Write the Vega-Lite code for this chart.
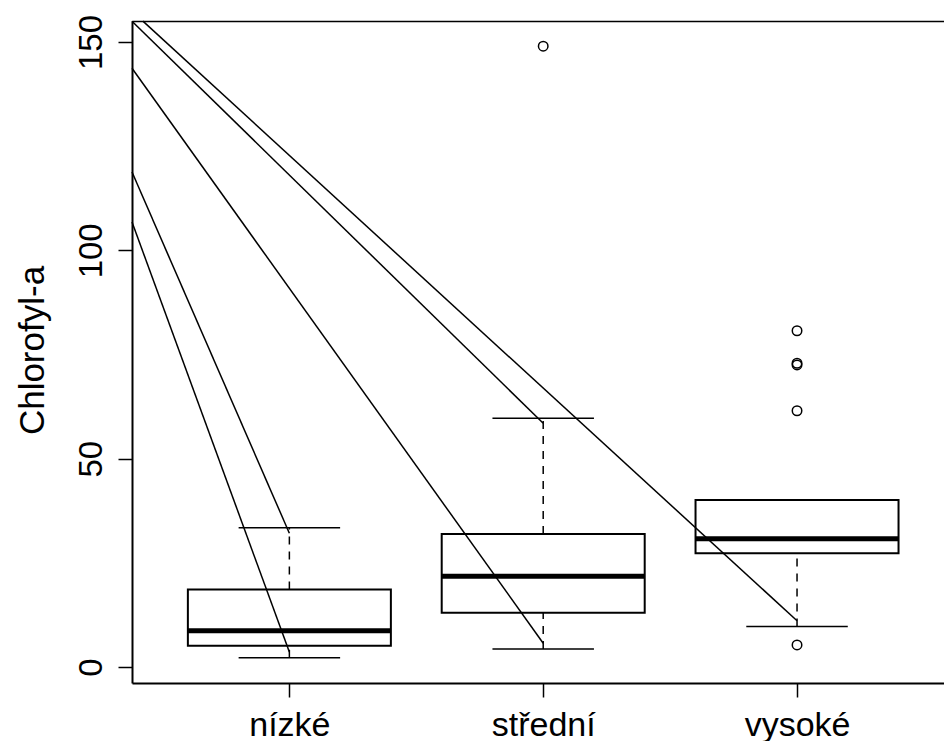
{
  "$schema": "https://vega.github.io/schema/vega-lite/v6.json",
  "width": 812,
  "height": 662,
  "autosize": {"type": "none"},
  "padding": {"left": 132, "top": 21, "right": 0, "bottom": 58},
  "background": "white",
  "config": {"view": {"stroke": null}, "font": "Liberation Sans"},
  "datasets": {
    "boxes": [
      {"pos": 1, "label": "nízké", "lo": 2.2, "q1": 5.1, "med": 8.7, "q3": 18.6, "hi": 33.4},
      {"pos": 2, "label": "střední", "lo": 4.3, "q1": 13.0, "med": 21.8, "q3": 31.9, "hi": 59.7},
      {"pos": 3, "label": "vysoké", "lo": 9.7, "q1": 27.3, "med": 30.8, "q3": 40.1, "hi": 40.1}
    ],
    "outliers": [
      {"pos": 2, "v": 149.0},
      {"pos": 3, "v": 80.7},
      {"pos": 3, "v": 72.9},
      {"pos": 3, "v": 72.5},
      {"pos": 3, "v": 61.5},
      {"pos": 3, "v": 5.3}
    ],
    "lines": [
      {"x1": 0.38, "y1": 106.8, "x2": 1, "y2": 3.6},
      {"x1": 0.38, "y1": 118.8, "x2": 1, "y2": 32.1},
      {"x1": 0.38, "y1": 143.7, "x2": 2, "y2": 5.7},
      {"x1": 0.38, "y1": 155.0, "x2": 2, "y2": 58.5},
      {"x1": 0.423, "y1": 155.0, "x2": 3, "y2": 11.1}
    ]
  },
  "resolve": {"axis": {"x": "independent"}},
  "layer": [
    {
      "data": {"name": "boxes"},
      "mark": {"type": "rule", "color": "black", "strokeWidth": 1.5, "strokeDash": [8, 7]},
      "encoding": {
        "x": {
          "field": "pos", "type": "quantitative",
          "scale": {"domain": [0.38, 3.579], "nice": false, "zero": false, "padding": 0},
          "axis": {
            "orient": "bottom", "values": [1, 2, 3], "title": null, "grid": false,
            "labelExpr": "datum.value == 1 ? 'nízké' : datum.value == 2 ? 'střední' : 'vysoké'",
            "labelFont": "Liberation Sans", "labelFontSize": 34, "labelColor": "black",
            "labelBaseline": "alphabetic", "labelPadding": 38, "labelFlush": false, "labelOverlap": false, "labelBound": false,
            "tickSize": 14, "tickWidth": 1.5, "tickColor": "black",
            "domainColor": "black", "domainWidth": 2
          }
        },
        "y": {
          "field": "q3", "type": "quantitative", "title": "Chlorofyl-a",
          "scale": {"domain": [-3.84, 155.04], "nice": false, "zero": false, "padding": 0},
          "axis": {
            "orient": "left", "values": [0, 50, 100, 150], "grid": false,
            "title": "Chlorofyl-a", "titleFont": "Liberation Sans", "titleFontSize": 35, "titleFontWeight": "normal", "titleColor": "black",
            "titleAngle": 270, "titleAlign": "center", "titleBaseline": "alphabetic", "titleX": -89, "titleY": 329,
            "labelFont": "Liberation Sans", "labelFontSize": 33, "labelColor": "black", "labelAngle": 270,
            "labelAlign": "center", "labelBaseline": "alphabetic", "labelPadding": 17, "labelFlush": false, "labelOverlap": false, "labelBound": false,
            "tickSize": 14, "tickWidth": 1.5, "tickColor": "black",
            "domainColor": "black", "domainWidth": 2
          }
        },
        "y2": {"field": "hi"}
      }
    },
    {
      "data": {"name": "boxes"},
      "mark": {"type": "rule", "color": "black", "strokeWidth": 1.5, "strokeDash": [8, 7]},
      "encoding": {
        "x": {"field": "pos", "type": "quantitative", "axis": null},
        "y": {"field": "lo", "type": "quantitative", "title": "Chlorofyl-a"},
        "y2": {"field": "q1"}
      }
    },
    {
      "data": {"name": "boxes"},
      "mark": {"type": "bar", "orient": "vertical", "fill": "white", "stroke": "black", "strokeWidth": 2, "size": 203},
      "encoding": {
        "x": {"field": "pos", "type": "quantitative", "axis": null},
        "y": {"field": "q1", "type": "quantitative", "title": "Chlorofyl-a"},
        "y2": {"field": "q3"}
      }
    },
    {
      "data": {"name": "boxes"},
      "mark": {"type": "tick", "orient": "horizontal", "color": "black", "opacity": 1, "size": 203, "thickness": 5},
      "encoding": {
        "x": {"field": "pos", "type": "quantitative", "axis": null},
        "y": {"field": "med", "type": "quantitative", "title": "Chlorofyl-a"}
      }
    },
    {
      "data": {"name": "boxes"},
      "mark": {"type": "tick", "orient": "horizontal", "color": "black", "opacity": 1, "size": 101.5, "thickness": 1.5},
      "encoding": {
        "x": {"field": "pos", "type": "quantitative", "axis": null},
        "y": {"field": "hi", "type": "quantitative", "title": "Chlorofyl-a"}
      }
    },
    {
      "data": {"name": "boxes"},
      "mark": {"type": "tick", "orient": "horizontal", "color": "black", "opacity": 1, "size": 101.5, "thickness": 1.5},
      "encoding": {
        "x": {"field": "pos", "type": "quantitative", "axis": null},
        "y": {"field": "lo", "type": "quantitative", "title": "Chlorofyl-a"}
      }
    },
    {
      "data": {"name": "outliers"},
      "mark": {"type": "point", "shape": "circle", "filled": false, "stroke": "black", "strokeWidth": 1.5, "size": 90, "opacity": 1},
      "encoding": {
        "x": {"field": "pos", "type": "quantitative", "axis": null},
        "y": {"field": "v", "type": "quantitative", "title": "Chlorofyl-a"}
      }
    },
    {
      "data": {"name": "lines"},
      "mark": {"type": "rule", "color": "black", "strokeWidth": 1.5},
      "encoding": {
        "x": {
          "field": "x1", "type": "quantitative",
          "axis": {"orient": "top", "labels": false, "ticks": false, "title": null, "grid": false, "domainColor": "black", "domainWidth": 1.5}
        },
        "y": {"field": "y1", "type": "quantitative", "title": "Chlorofyl-a"},
        "x2": {"field": "x2"},
        "y2": {"field": "y2"}
      }
    }
  ]
}
